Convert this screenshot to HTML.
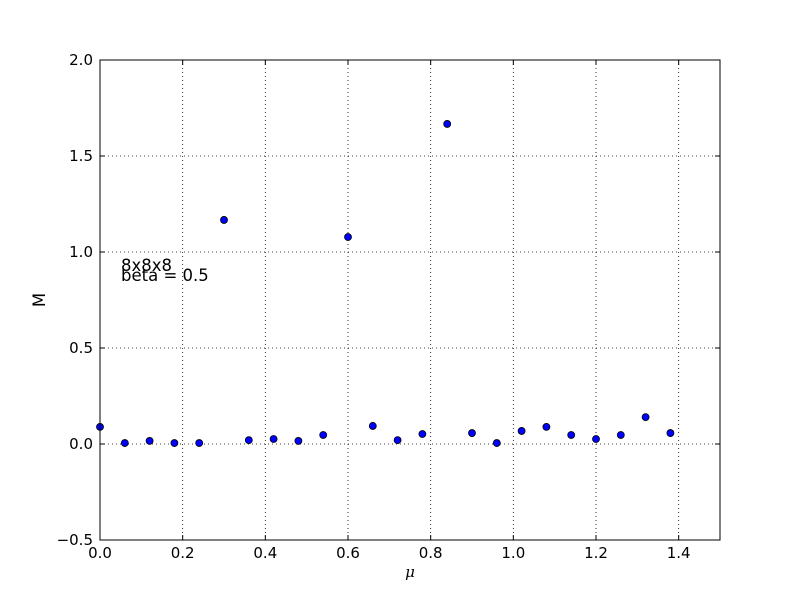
<!DOCTYPE html>
<html><head><meta charset="utf-8"><style>
body{margin:0;background:#fff;}
svg{display:block;font-family:"DejaVu Sans","Liberation Sans",sans-serif;}
</style></head><body>
<svg id="chart" width="800" height="600">
<rect width="800" height="600" fill="#fff"/>
<g id="grid"></g>
<g id="pts"></g>
<rect x="100" y="60" width="620" height="480" fill="none" stroke="#000" stroke-width="1"/>
<g id="ticks"></g>
<text x="121" y="271" font-size="16.5">8x8x8</text>
<text x="121" y="281" font-size="16.5">beta = 0.5</text>
<text x="410" y="577" font-size="15" font-style="italic" text-anchor="middle" font-family="DejaVu Serif,serif">μ</text>
<text x="45" y="300" font-size="16.5" text-anchor="middle" transform="rotate(-90 45 300)">M</text>
</svg>
<script>
const xs=[0,0.06,0.12,0.18,0.24,0.30,0.36,0.42,0.48,0.54,0.60,0.66,0.72,0.78,0.84,0.90,0.96,1.02,1.08,1.14,1.20,1.26,1.32,1.38];
const ys=[0.089,0.005,0.016,0.005,0.005,1.167,0.02,0.026,0.016,0.047,1.078,0.094,0.02,0.052,1.667,0.057,0.005,0.068,0.089,0.047,0.026,0.047,0.14,0.057];
const xTicks=["0.0","0.2","0.4","0.6","0.8","1.0","1.2","1.4"];
const yTicks=["−0.5","0.0","0.5","1.0","1.5","2.0"];
const NS="http://www.w3.org/2000/svg";
const X=v=>100+v/1.5*620, Y=v=>540-(v+0.5)/2.5*480;
const grid=document.getElementById('grid'),tk=document.getElementById('ticks'),pts=document.getElementById('pts');
function mk(p,tag,a){const e=document.createElementNS(NS,tag);for(const k in a)e.setAttribute(k,a[k]);p.appendChild(e);return e;}
xTicks.forEach((t,i)=>{const v=i*0.2,x=X(v);
 const g=mk(grid,'line',{x1:x,x2:x,y1:60,y2:540,stroke:'#000','stroke-dasharray':'1,3','stroke-width':0.8});
 
 
 mk(tk,'line',{x1:x,x2:x,y1:540,y2:535,stroke:'#000'});mk(tk,'line',{x1:x,x2:x,y1:60,y2:65,stroke:'#000'});
 const tx=mk(tk,'text',{x:x,y:558,'font-size':15,'text-anchor':'middle'});tx.textContent=t;
 
 });
yTicks.forEach((t,i)=>{const v=-0.5+i*0.5,y=Y(v);
 const g=mk(grid,'line',{x1:100,x2:720,y1:y,y2:y,stroke:'#000','stroke-dasharray':'1,3','stroke-width':0.8});
 
 
 mk(tk,'line',{x1:100,x2:105,y1:y,y2:y,stroke:'#000'});mk(tk,'line',{x1:715,x2:720,y1:y,y2:y,stroke:'#000'});
 const tx=mk(tk,'text',{x:93,y:y+5,'font-size':15,'text-anchor':'end'});tx.textContent=t;
 
 });
xs.forEach((v,i)=>{const c=mk(pts,'circle',{cx:X(v),cy:Y(ys[i]),r:3.5,fill:'#0000ff',stroke:'#000','stroke-width':0.8});
 
 });
</script>
</body></html>
